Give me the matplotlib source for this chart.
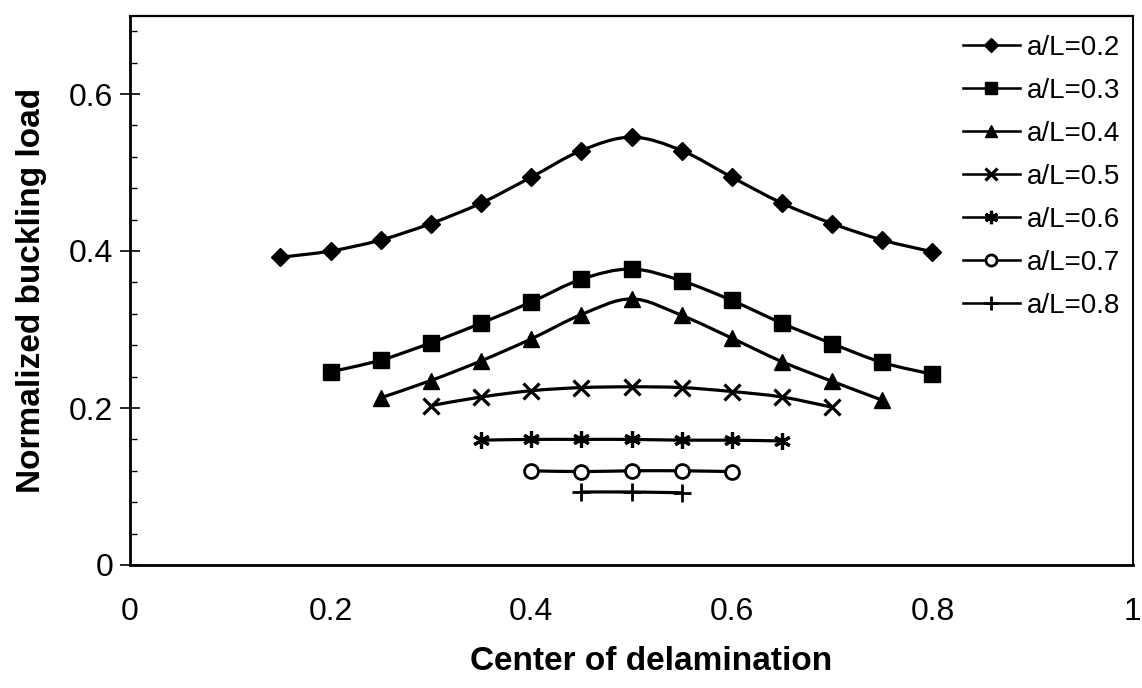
import numpy as np
import matplotlib
matplotlib.use('Agg')
import matplotlib.pyplot as plt
from matplotlib.path import Path
from matplotlib.patches import PathPatch
from matplotlib.lines import Line2D
from matplotlib.ticker import MultipleLocator, FuncFormatter

plt.rcParams['font.family'] = ['Liberation Sans', 'DejaVu Sans']

# ---------------- data ----------------
series_labels = ['a/L=0.2', 'a/L=0.3', 'a/L=0.4', 'a/L=0.5', 'a/L=0.6', 'a/L=0.7', 'a/L=0.8']

center_02 = [0.15, 0.20, 0.25, 0.30, 0.35, 0.40, 0.45, 0.50, 0.55, 0.60, 0.65, 0.70, 0.75, 0.80]
load_02 = [0.392, 0.400, 0.414, 0.435, 0.461, 0.494, 0.528, 0.545, 0.528, 0.494, 0.461, 0.435, 0.414, 0.399]

center_03 = [0.20, 0.25, 0.30, 0.35, 0.40, 0.45, 0.50, 0.55, 0.60, 0.65, 0.70, 0.75, 0.80]
load_03 = [0.246, 0.261, 0.283, 0.308, 0.335, 0.364, 0.377, 0.362, 0.337, 0.308, 0.282, 0.258, 0.243]

center_04 = [0.25, 0.30, 0.35, 0.40, 0.45, 0.50, 0.55, 0.60, 0.65, 0.70, 0.75]
load_04 = [0.213, 0.235, 0.260, 0.288, 0.319, 0.339, 0.318, 0.289, 0.259, 0.234, 0.210]

center_05 = [0.30, 0.35, 0.40, 0.45, 0.50, 0.55, 0.60, 0.65, 0.70]
load_05 = [0.203, 0.214, 0.222, 0.226, 0.227, 0.226, 0.221, 0.214, 0.201]

center_06 = [0.35, 0.40, 0.45, 0.50, 0.55, 0.60, 0.65]
load_06 = [0.159, 0.160, 0.160, 0.160, 0.159, 0.159, 0.158]

center_07 = [0.40, 0.45, 0.50, 0.55, 0.60]
load_07 = [0.120, 0.119, 0.120, 0.120, 0.119]

center_08 = [0.45, 0.50, 0.55]
load_08 = [0.093, 0.093, 0.092]

x_ticks = [0, 0.2, 0.4, 0.6, 0.8, 1.0]
y_ticks = [0, 0.2, 0.4, 0.6]

# ---------------- styles ----------------
styles = [
    dict(marker='D', ms=9.5, mfc='black'),
    dict(marker='s', ms=11.5, mfc='black'),
    dict(marker='^', ms=11.5, mfc='black'),
    dict(marker='x', ms=11, mfc='black', mew=2.3),
    dict(marker=(6, 2, 0), ms=12, mfc='black', mew=2.3),
    dict(marker='o', ms=10, mfc='white', mew=2.0),
    dict(marker='+', ms=13, mfc='black', mew=2.0),
]

xs_all = [center_02, center_03, center_04, center_05, center_06, center_07, center_08]
ys_all = [load_02, load_03, load_04, load_05, load_06, load_07, load_08]

W, H = 1142, 688
fig = plt.figure(figsize=(W / 100, H / 100), dpi=100)
ax = fig.add_axes([130 / W, (H - 565) / H, 1003 / W, 549.5 / H])
ax.set_xlim(0, 1)
ax.set_ylim(0, 0.7)


def smooth_path(x, y):
    pts = np.column_stack([x, y]).astype(float)
    n = len(pts)
    verts = [pts[0]]
    codes = [Path.MOVETO]
    for i in range(n - 1):
        p0 = pts[i - 1] if i > 0 else pts[i]
        p1 = pts[i]
        p2 = pts[i + 1]
        p3 = pts[i + 2] if i + 2 < n else pts[i + 1]
        c1 = p1 + (p2 - p0) / 6.0
        c2 = p2 - (p3 - p1) / 6.0
        verts += [c1, c2, p2]
        codes += [Path.CURVE4] * 3
    return Path(verts, codes)


LW = 2.3
handles = []
for x, y, st, lab in zip(xs_all, ys_all, styles, series_labels):
    ax.add_patch(PathPatch(smooth_path(x, y), fill=False, lw=LW,
                           edgecolor='black', capstyle='round', joinstyle='round', zorder=2))
    kw = dict(st)
    ax.plot(x, y, ls='none', color='black', mec='black', zorder=3, **kw)
    handles.append(Line2D([], [], color='black', lw=LW * 0.8, mec='black', label=lab, **kw))

# axes frame
for sp in ax.spines.values():
    sp.set_linewidth(2.0)
ax.spines['right'].set_linewidth(1.4)
ax.spines['top'].set_linewidth(1.6)

ax.set_xticks(x_ticks)
ax.set_yticks(y_ticks)
fmt = FuncFormatter(lambda v, p: '%g' % round(v, 3))
ax.xaxis.set_major_formatter(fmt)
ax.yaxis.set_major_formatter(fmt)
ax.yaxis.set_minor_locator(MultipleLocator(0.04))
ax.tick_params(axis='x', which='both', length=0, pad=23, labelsize=23)
ax.tick_params(axis='y', which='major', direction='inout', length=14, width=1.2,
               pad=5, labelsize=23)
ax.tick_params(axis='y', which='minor', direction='in', length=5, width=1.0)

ax.set_xlabel('Center of delamination', fontsize=24, fontweight='bold')
ax.xaxis.set_label_coords(0.52, -0.148)
ax.set_ylabel('Normalized buckling load', fontsize=24, fontweight='bold')
ax.yaxis.set_label_coords(-0.083, 0.5)

leg = fig.legend(handles=handles, loc='upper left',
                 bbox_to_anchor=(963 / W, 1 - 35 / H),
                 frameon=False, fontsize=20, handlelength=2.05,
                 handletextpad=0.25, labelspacing=0.61, borderpad=0,
                 borderaxespad=0, markerscale=0.8)

fig.savefig('out.png', dpi=100)
